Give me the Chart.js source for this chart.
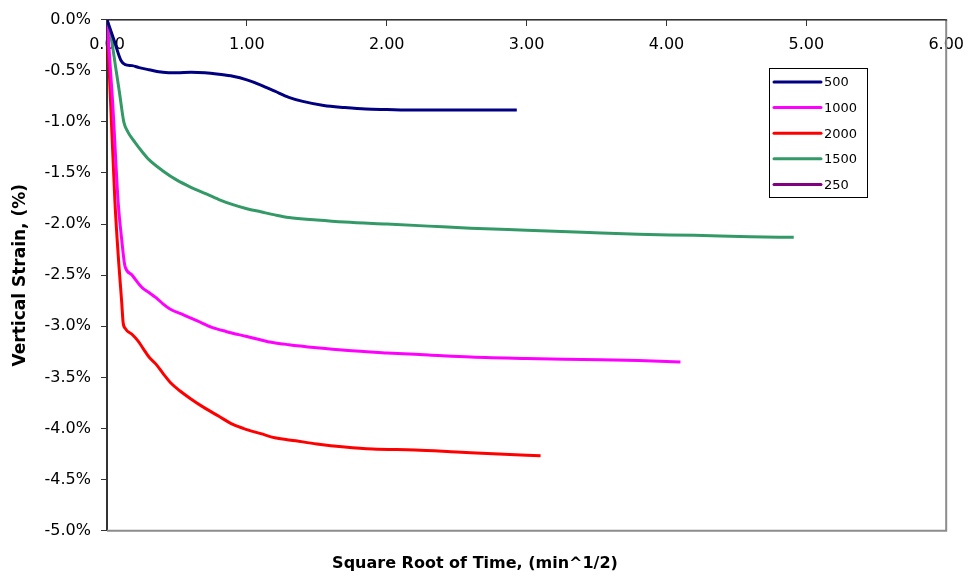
<!DOCTYPE html>
<html><head><meta charset="utf-8">
<script src="https://cdn.jsdelivr.net/npm/chart.js@4/dist/chart.umd.min.js"></script>
<style>html,body{margin:0;padding:0;background:#fff}</style>
</head><body>
<canvas id="c" width="974" height="578"></canvas>
<script>
// ---- data ----
const seriesNames  = ['500', '1000', '2000', '1500', '250'];
const seriesColors = ['#000080', '#FF00FF', '#FF0000', '#339966', '#800080'];

const x500 = [0, 0.05, 0.10, 0.13, 0.18, 0.23, 0.30, 0.40, 0.50, 0.60, 0.70, 0.80, 0.90, 1.00, 1.10, 1.20, 1.30, 1.40, 1.55, 1.70, 1.85, 2.00, 2.20, 2.40, 2.60, 2.80, 2.93];
const y500 = [0, -0.20, -0.40, -0.44, -0.45, -0.47, -0.49, -0.515, -0.52, -0.515, -0.52, -0.535, -0.555, -0.59, -0.64, -0.70, -0.76, -0.80, -0.84, -0.86, -0.875, -0.88, -0.885, -0.885, -0.885, -0.884, -0.883];

const x1000 = [0, 0.04, 0.08, 0.105, 0.123, 0.13, 0.18, 0.25, 0.30, 0.35, 0.40, 0.45, 0.55, 0.65, 0.75, 0.85, 1.00, 1.15, 1.30, 1.50, 1.70, 2.00, 2.30, 2.60, 3.00, 3.40, 3.80, 4.10];
const y1000 = [0, -0.80, -1.79, -2.15, -2.37, -2.42, -2.50, -2.62, -2.67, -2.72, -2.78, -2.83, -2.89, -2.95, -3.01, -3.05, -3.10, -3.15, -3.18, -3.21, -3.235, -3.26, -3.28, -3.30, -3.315, -3.325, -3.335, -3.35];

const x2000 = [0, 0.026, 0.057, 0.085, 0.105, 0.115, 0.13, 0.18, 0.22, 0.26, 0.30, 0.35, 0.40, 0.46, 0.52, 0.60, 0.70, 0.80, 0.90, 1.00, 1.10, 1.20, 1.35, 1.50, 1.70, 1.90, 2.20, 2.50, 2.80, 3.10];
const y2000 = [0, -0.82, -1.79, -2.40, -2.76, -2.96, -3.02, -3.08, -3.14, -3.22, -3.30, -3.37, -3.46, -3.56, -3.63, -3.71, -3.80, -3.88, -3.96, -4.01, -4.05, -4.09, -4.12, -4.15, -4.18, -4.20, -4.21, -4.23, -4.25, -4.265];

const x1500 = [0, 0.03, 0.06, 0.09, 0.12, 0.15, 0.20, 0.25, 0.30, 0.40, 0.50, 0.60, 0.70, 0.80, 0.90, 1.00, 1.10, 1.20, 1.30, 1.50, 1.70, 2.00, 2.30, 2.60, 3.00, 3.40, 3.80, 4.20, 4.60, 4.91];
const y1500 = [0, -0.18, -0.45, -0.72, -1.00, -1.10, -1.20, -1.29, -1.37, -1.48, -1.57, -1.64, -1.70, -1.76, -1.81, -1.85, -1.88, -1.91, -1.935, -1.96, -1.98, -2.00, -2.02, -2.04, -2.06, -2.08, -2.10, -2.11, -2.125, -2.13];

const x250 = [];
const y250 = [];

const xTickStep = 1;   // 0.00 ... 6.00
const yTickStep = 0.5; // 0.0% ... -5.0%

// ---- build ----
function pts(xs, ys) { return xs.map((x, i) => ({ x: x, y: ys[i] })); }
const seriesData = [pts(x500, y500), pts(x1000, y1000), pts(x2000, y2000), pts(x1500, y1500), pts(x250, y250)];

const FONT = "'DejaVu Sans', 'Liberation Sans', Arial, sans-serif";

const framePlugin = {
  id: 'frame',
  beforeDatasetsDraw(chart) {
    const a = chart.chartArea, ctx = chart.ctx;
    ctx.save();
    ctx.strokeStyle = '#8c8c8c';
    ctx.lineWidth = 2;
    ctx.beginPath();
    ctx.moveTo(a.left, a.bottom);
    ctx.lineTo(a.right, a.bottom);
    ctx.lineTo(a.right, a.top);
    ctx.stroke();
    ctx.strokeStyle = '#333';
    ctx.lineWidth = 1;
    ctx.beginPath();
    ctx.moveTo(a.left, a.top + 0.5);
    ctx.lineTo(a.right + 1, a.top + 0.5);
    ctx.stroke();
    ctx.restore();
  }
};

const legendPlugin = {
  id: 'boxLegend',
  afterDraw(chart) {
    const ctx = chart.ctx;
    const bx = 769, by = 68, bw = 98, bh = 129;
    ctx.save();
    ctx.fillStyle = '#fff';
    ctx.fillRect(bx, by, bw, bh);
    ctx.strokeStyle = '#000';
    ctx.lineWidth = 1;
    ctx.strokeRect(bx + 0.5, by + 0.5, bw, bh);
    ctx.font = '13px ' + FONT;
    ctx.textBaseline = 'middle';
    ctx.textAlign = 'left';
    chart.data.datasets.forEach((ds, i) => {
      const y = 82 + i * 25.6;
      ctx.strokeStyle = ds.borderColor;
      ctx.lineWidth = 3;
      ctx.lineCap = 'round';
      ctx.beginPath();
      ctx.moveTo(774, y);
      ctx.lineTo(821, y);
      ctx.stroke();
      ctx.fillStyle = '#000';
      ctx.fillText(ds.label, 824, y + 1);
    });
    ctx.restore();
  }
};

new Chart(document.getElementById('c'), {
  type: 'line',
  data: {
    datasets: seriesNames.map((n, i) => ({
      label: n,
      data: seriesData[i],
      borderColor: seriesColors[i],
      backgroundColor: seriesColors[i],
      borderWidth: 3,
      pointRadius: 0,
      fill: false,
      cubicInterpolationMode: 'monotone'
    }))
  },
  options: {
    responsive: false,
    animation: false,
    events: [],
    layout: { padding: { top: 16, right: 24, left: 0, bottom: 0 } },
    plugins: {
      legend: { display: false },
      tooltip: { enabled: false },
      title: {
        display: true,
        position: 'bottom',
        text: 'Square Root of Time, (min^1/2)',
        color: '#000',
        font: { family: FONT, size: 16, weight: 'bold' },
        padding: { top: 23, bottom: 5 }
      }
    },
    scales: {
      x: {
        type: 'linear',
        position: { y: 0 },
        min: 0, max: 6,
        ticks: {
          stepSize: xTickStep,
          callback: v => Number(v).toFixed(2),
          color: '#000',
          font: { family: FONT, size: 16 },
          padding: 10,
          maxRotation: 0
        },
        grid: { display: true, drawOnChartArea: false, drawTicks: true, tickLength: 6, color: '#333' },
        border: { display: true, color: '#333', width: 1 }
      },
      y: {
        type: 'linear',
        position: 'left',
        min: -5, max: 0,
        afterFit: s => { s.width = 107; },
        ticks: {
          stepSize: yTickStep,
          callback: v => Number(v).toFixed(1) + '%',
          color: '#000',
          font: { family: FONT, size: 16 },
          padding: 10
        },
        grid: { display: true, drawOnChartArea: false, drawTicks: true, tickLength: 6, color: '#333' },
        border: { display: true, color: '#333', width: 2 },
        title: {
          display: true,
          text: 'Vertical Strain, (%)',
          color: '#000',
          font: { family: FONT, size: 17, weight: 'bold' },
          padding: { top: 10, bottom: 0 }
        }
      }
    }
  },
  plugins: [framePlugin, legendPlugin]
});
</script>
</body></html>
